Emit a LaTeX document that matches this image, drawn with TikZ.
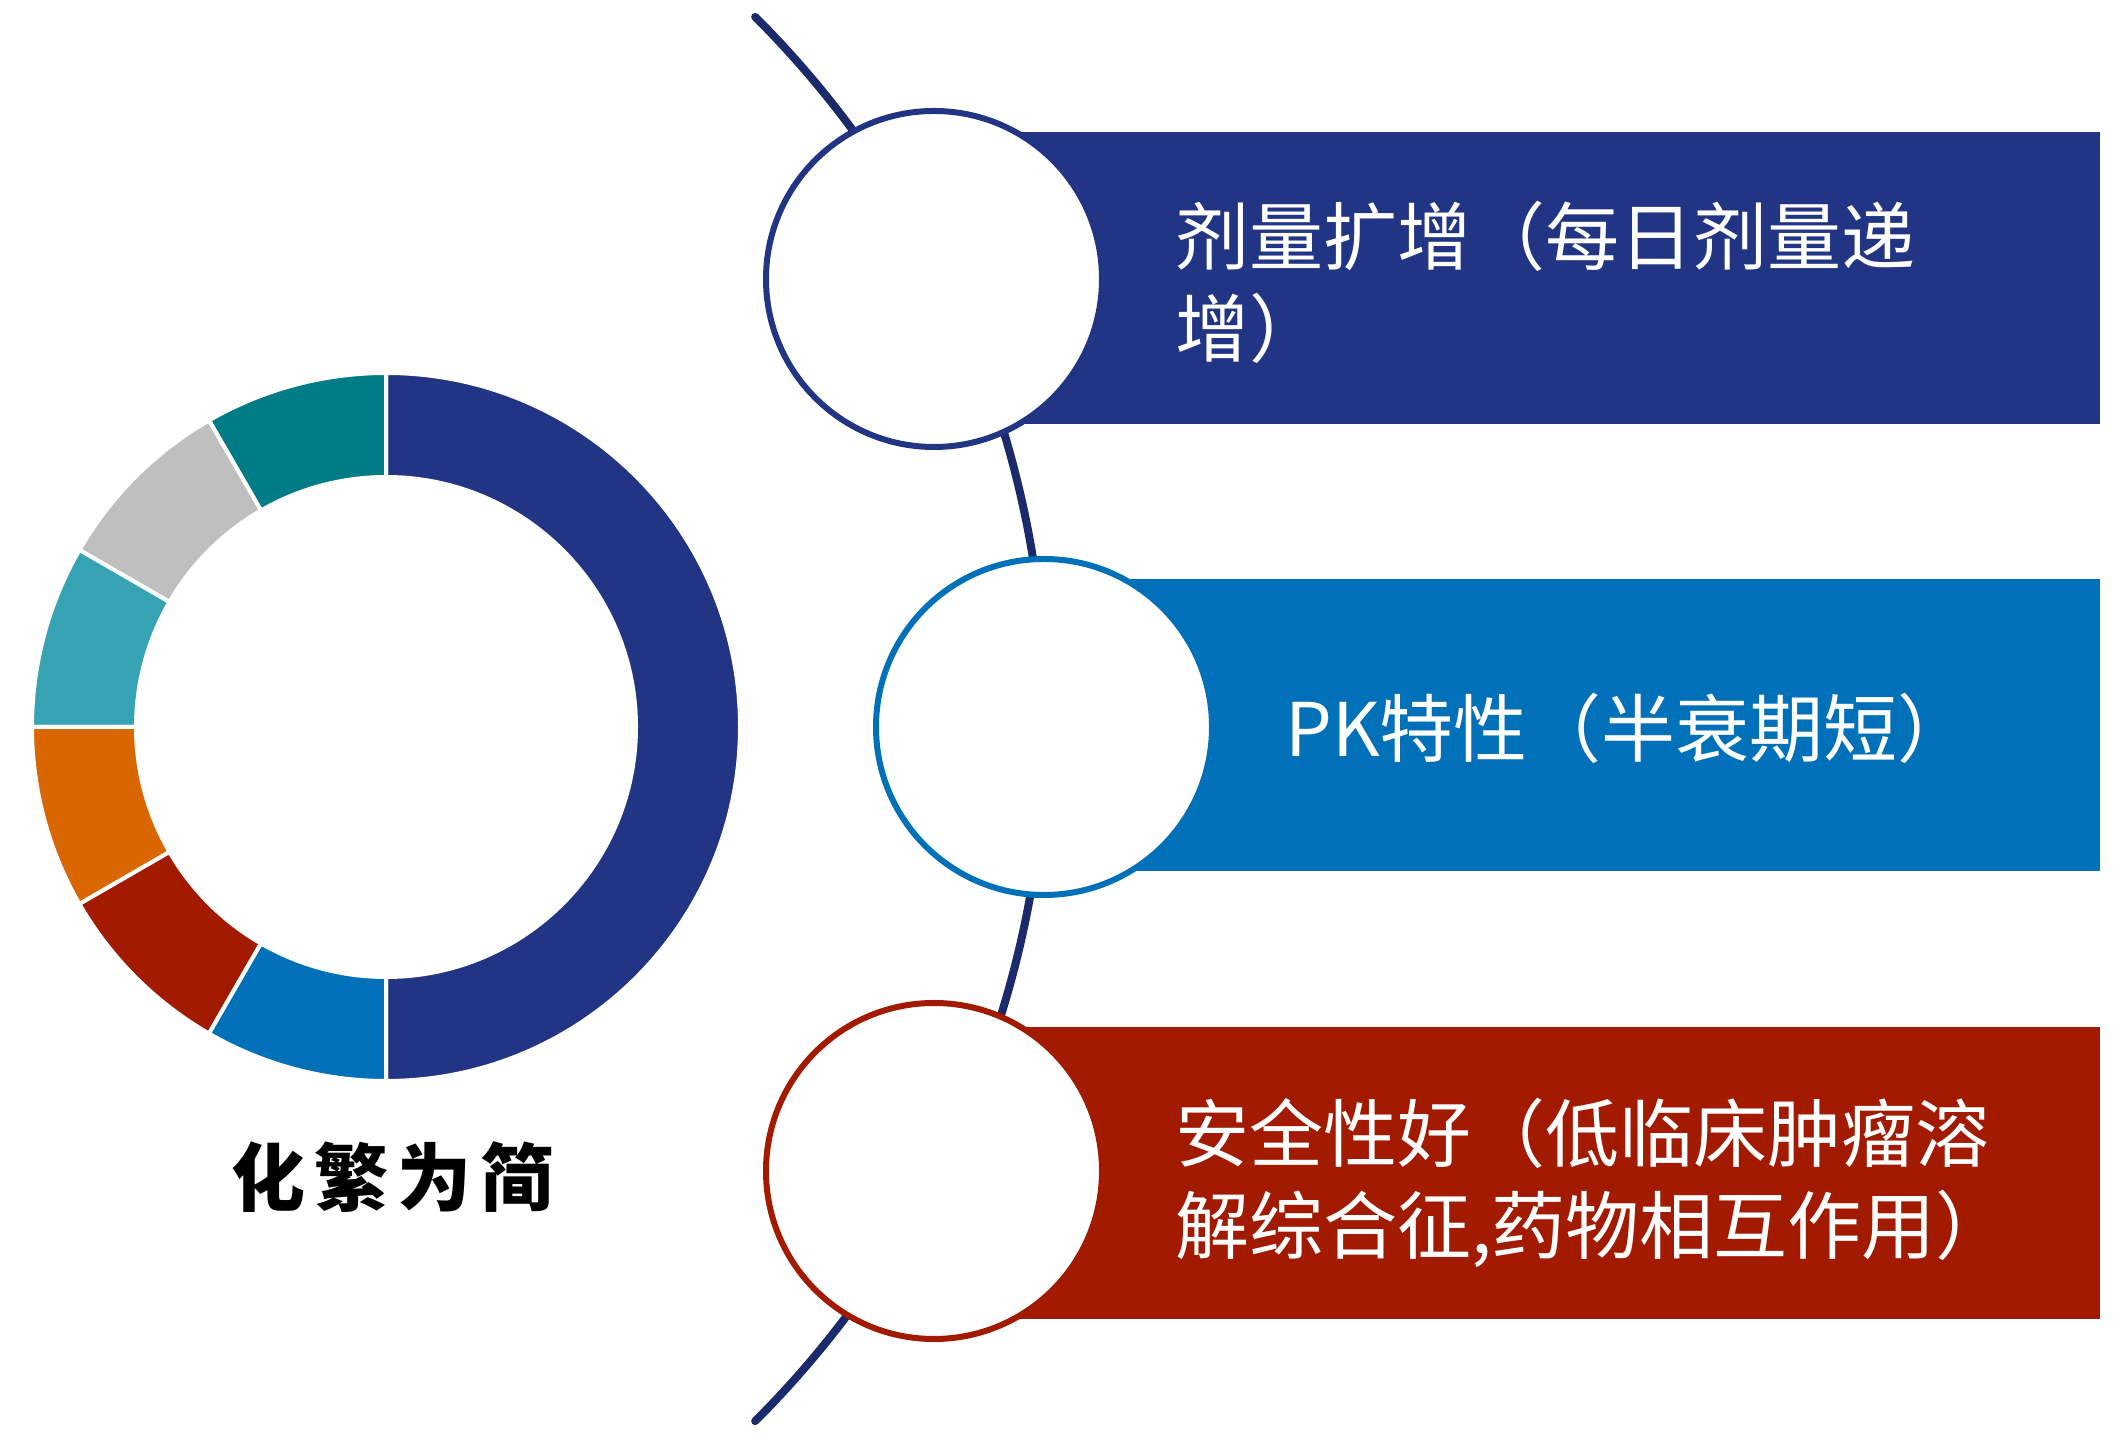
\documentclass[tikz,border=0pt]{standalone}
\usepackage{fontspec}
\setmainfont{Noto Sans CJK SC}
\newfontfamily\mottofont[LetterSpace=12]{Noto Sans CJK SC}
\usepackage{tikz}
\usetikzlibrary{positioning, calc}
\definecolor{DoseNavy}{HTML}{213584}
\definecolor{ArcNavy}{HTML}{1B2A6B}
\definecolor{PKBlue}{HTML}{0070B9}
\definecolor{SafeRed}{HTML}{A21A00}
\definecolor{SegTeal}{HTML}{007C87}
\definecolor{SegGray}{HTML}{BFBFBF}
\definecolor{SegAqua}{HTML}{36A3B5}
\definecolor{SegOrange}{HTML}{D96600}

\begin{document}
\begin{tikzpicture}[x=1pt, y=1pt,
  bar/.style={fill=#1, minimum height=292pt, anchor=west, inner sep=0pt},
  ring/.style={circle, draw=#1, line width=6pt, fill=white, minimum size=336pt, inner sep=0pt},
  txt/.style={text=white, anchor=west, align=left, inner sep=0pt, font=\fontsize{74}{92}\selectfont}
]
\useasboundingbox (0,0) rectangle (2126,1434);
% donut chart
\coordinate (donut) at (386,707);
\foreach \a/\b/\c in {-90/90/DoseNavy, 90/120/SegTeal, 120/150/SegGray, 150/180/SegAqua,
                      180/210/SegOrange, 210/240/SafeRed, 240/270/PKBlue}
  \filldraw[fill=\c, draw=white, line width=4pt]
    ($(donut)+(\a:354pt)$) arc[start angle=\a, end angle=\b, radius=354pt]
    -- ($(donut)+(\b:250pt)$) arc[start angle=\b, end angle=\a, radius=250pt] -- cycle;
\node[font=\mottofont\bfseries\fontsize{74}{80}\selectfont] (motto) at (393,257) {化繁为简};
% spine arc
\coordinate (spine) at (53,715);
\draw[ArcNavy, line width=8pt, line cap=round]
  ($(spine)+(-45:993pt)$) arc[start angle=-45, end angle=45, radius=993pt];
% bars
\node[bar=DoseNavy, minimum width=1166pt] (dosebar) at (934,1156) {};
\node[bar=PKBlue, minimum width=1056pt] (pkbar) at (1044,709) {};
\node[bar=SafeRed, minimum width=1166pt] (safebar) at (934,261) {};
% rings
\node[ring=DoseNavy] (dosering) at (934,1155) {};
\node[ring=PKBlue] (pkring) at (1044,707) {};
\node[ring=SafeRed] (safering) at (934,263) {};
% texts
\node[txt] (dosetext) at (1175,1152) {剂量扩增（每日剂量递\\增）};
\node[txt] (pktext) at (1285,706) {PK特性（半衰期短）};
\node[txt] (safetext) at (1175,251) {安全性好（低临床肿瘤溶\\解综合征,药物相互作用）};
\end{tikzpicture}
\end{document}
